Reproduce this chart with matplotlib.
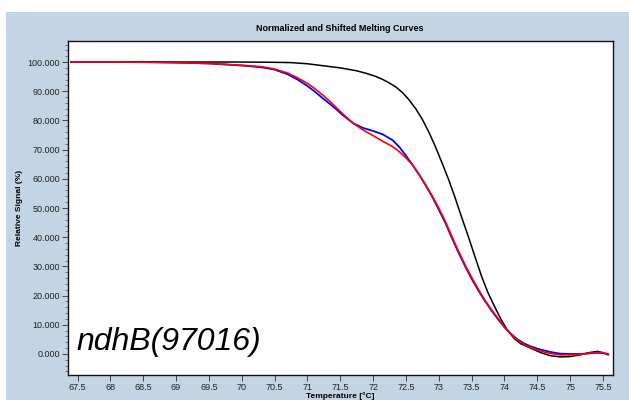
# 归一化熔解曲线 (Normalized and Shifted Melting Curves)
import matplotlib.pyplot as plt
from matplotlib.patches import Rectangle
from matplotlib.ticker import MultipleLocator, FormatStrFormatter, FixedLocator

plt.rcParams['font.family'] = ['Liberation Sans', 'DejaVu Sans']

# ---------------- 数据 ----------------
black_t = [67.4, 68.0, 68.5, 69.0, 69.5, 70.0, 70.5, 70.75, 71.0, 71.25, 71.5, 71.75, 71.9,
           72.05, 72.15, 72.25, 72.35, 72.45, 72.55, 72.65, 72.75, 72.85, 72.95, 73.05,
           73.15, 73.25, 73.35, 73.45, 73.55, 73.65, 73.75, 73.85, 73.95, 74.05, 74.15,
           74.25, 74.4, 74.55, 74.7, 74.85, 75.0, 75.15, 75.3, 75.42, 75.5, 75.58]
black_v = [100.0, 100.0, 100.0, 100.0, 100.0, 100.0, 99.9, 99.8, 99.4, 98.7, 98.0, 97.0, 96.1,
           95.0, 94.0, 92.8, 91.4, 89.5, 87.0, 84.0, 80.4, 76.0, 71.0, 65.5,
           59.8, 53.5, 46.8, 40.3, 33.5, 26.8, 21.0, 16.3, 11.8, 8.0, 5.3,
           3.5, 2.0, 0.5, -0.6, -1.0, -0.9, -0.3, 0.5, 0.9, 0.4, -0.3]

blue_t = [67.4, 68.0, 68.5, 69.0, 69.5, 70.0, 70.3, 70.5, 70.7, 70.85, 71.0, 71.1, 71.25,
          71.4, 71.55, 71.7, 71.85, 72.0, 72.15, 72.3, 72.4, 72.5, 72.6, 72.7, 72.8,
          72.9, 73.0, 73.1, 73.2, 73.3, 73.4, 73.5, 73.6, 73.7, 73.8, 73.9, 74.0,
          74.1, 74.2, 74.3, 74.4, 74.55, 74.7, 74.85, 75.0, 75.15, 75.3, 75.4, 75.5, 75.58]
blue_v = [100.0, 100.0, 100.0, 99.8, 99.5, 98.8, 98.2, 97.4, 95.8, 94.0, 91.8, 90.1, 87.3,
          84.6, 81.6, 79.0, 77.4, 76.4, 75.2, 73.2, 70.9, 68.0, 64.8, 61.5, 57.8,
          53.9, 49.5, 45.0, 39.8, 34.8, 30.2, 25.8, 21.9, 18.3, 15.0, 12.0, 9.2,
          6.9, 5.0, 3.6, 2.6, 1.5, 0.7, 0.1, 0.0, 0.0, 0.2, 0.4, 0.3, 0.0]

red_t = [67.4, 68.0, 68.5, 69.0, 69.5, 70.0, 70.3, 70.5, 70.7, 70.85, 71.0, 71.1, 71.25,
         71.4, 71.55, 71.7, 71.85, 72.0, 72.15, 72.3, 72.4, 72.5, 72.6, 72.7, 72.8,
         72.9, 73.0, 73.1, 73.2, 73.3, 73.4, 73.5, 73.6, 73.7, 73.8, 73.9, 74.0,
         74.1, 74.2, 74.3, 74.4, 74.55, 74.7, 74.85, 75.0, 75.15, 75.3, 75.4, 75.5, 75.58]
red_v = [100.0, 100.0, 99.9, 99.8, 99.5, 98.9, 98.4, 97.6, 96.2, 94.6, 92.7, 91.1, 88.4,
         85.3, 82.0, 79.0, 76.7, 74.8, 72.8, 71.0, 69.3, 67.2, 64.8, 61.5, 58.0,
         54.2, 50.0, 45.5, 40.3, 35.3, 30.6, 26.3, 22.3, 18.6, 15.3, 12.3, 9.3,
         6.8, 4.7, 3.2, 2.2, 1.0, 0.2, -0.3, -0.3, -0.2, 0.3, 0.5, 0.5, -0.2]

x_ticks = [67.5, 68, 68.5, 69, 69.5, 70, 70.5, 71, 71.5, 72, 72.5, 73, 73.5, 74, 74.5, 75, 75.5]
x_ticklabels = ['67.5', '68', '68.5', '69', '69.5', '70', '70.5', '71', '71.5', '72',
                '72.5', '73', '73.5', '74', '74.5', '75', '75.5']
sample_name = 'ndhB(97016)'

# ---------------- 画图 ----------------
fig = plt.figure(figsize=(6.29, 4.0), dpi=100)
fig.patch.set_facecolor('white')
# 蓝灰色背景面板 (放在坐标轴下面)
fig.add_artist(Rectangle((6 / 629, 0), 1, 388 / 400, transform=fig.transFigure,
                         facecolor='#c3d4e4', edgecolor='none', zorder=-10))

ax = fig.add_axes([67.7 / 629, 25 / 400, 545 / 629, 334 / 400])
ax.set_zorder(1)
ax.set_facecolor('white')

ax.plot(black_t, black_v, color='black', lw=1.1)
ax.plot(blue_t, blue_v, color='#0000ff', lw=1.3)
ax.plot(red_t, red_v, color='#ff0000', lw=1.2)

ax.set_xlim(67.35, 75.65)
ax.set_ylim(-7.2, 107.2)

ax.xaxis.set_major_locator(FixedLocator(x_ticks))
ax.set_xticklabels(x_ticklabels)
ax.yaxis.set_major_locator(MultipleLocator(10))
ax.yaxis.set_minor_locator(MultipleLocator(2))
ax.yaxis.set_major_formatter(FormatStrFormatter('%.3f'))

ax.tick_params(axis='both', which='major', labelsize=6.5, labelcolor='#222222',
               length=4, width=0.7, color='#444444', pad=1.5)
ax.tick_params(axis='y', which='minor', length=2.5, width=0.6, color='#666666')

for s in ax.spines.values():
    s.set_color('#111111')
    s.set_linewidth(1.0)

ax.set_title('Normalized and Shifted Melting Curves', fontsize=6.5, fontweight='bold', pad=7)
ax.set_ylabel('Relative Signal (%)', fontsize=6, fontweight='bold', labelpad=3)
ax.set_xlabel('Temperature [°C]', fontsize=6, fontweight='bold', labelpad=0)

ax.text(67.49, 1.4, sample_name, fontsize=23, style='italic', va='baseline', ha='left')

plt.savefig('out.png', dpi=100, facecolor=fig.get_facecolor())
